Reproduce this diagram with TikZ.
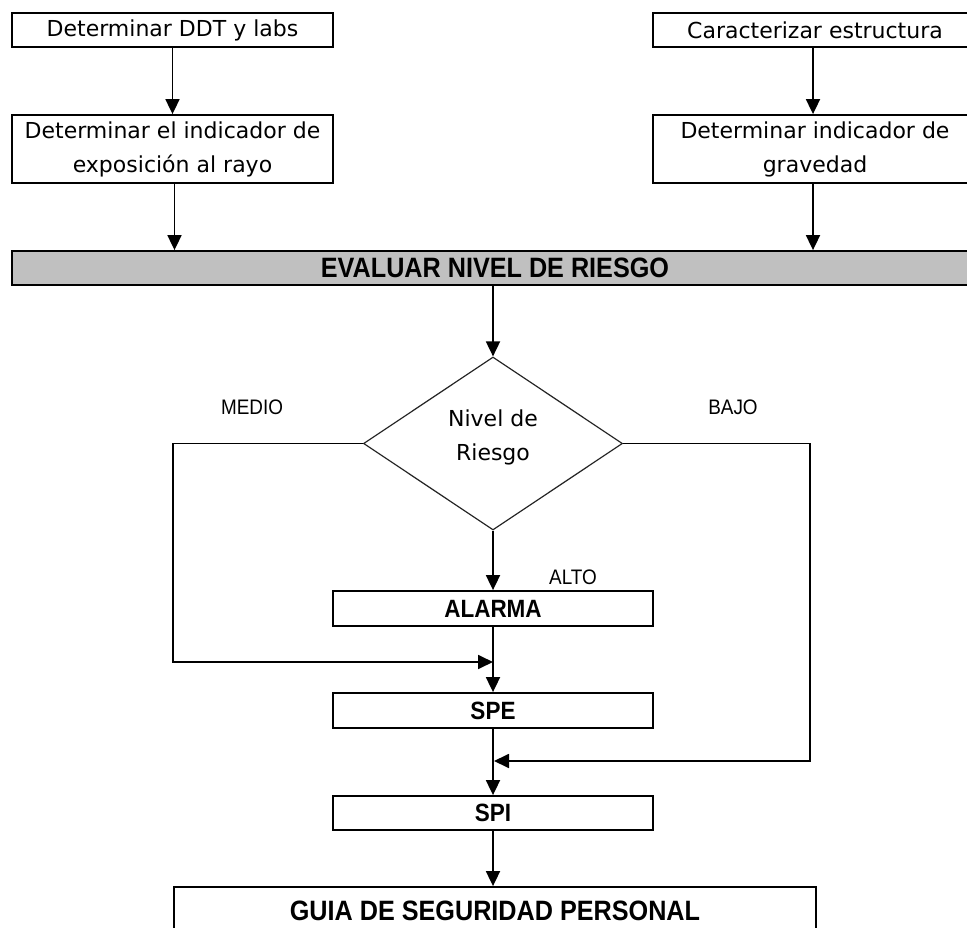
\documentclass[tikz,border=0pt]{standalone}
\usepackage{fontspec}
\usetikzlibrary{arrows.meta,shapes.geometric}
\newfontfamily\regf{DejaVu Sans}
\newfontfamily\boldf[FakeStretch=0.9]{Liberation Sans}
\newfontfamily\labf[FakeStretch=0.9]{Liberation Sans}
\definecolor{barfill}{HTML}{C0C0C0}
\tikzset{
  box/.style={draw=black, rectangle, inner sep=0pt, line width=1.8pt, fill=white, align=center,
              font=\regf\fontsize{22}{34}\selectfont},
  boldbox/.style={box, font=\boldf\bfseries\fontsize{25}{30}\selectfont},
  bigbold/.style={box, font=\boldf\bfseries\fontsize{28}{34}\selectfont},
  lab/.style={inner sep=0pt, font=\labf\fontsize{21}{25}\selectfont},
  conn/.style={line width=1.8pt, -{Triangle[length=15pt,width=14pt]}}
}
\begin{document}
\begin{tikzpicture}[x=1pt,y=-1pt]
\useasboundingbox (0,0) rectangle (967,928);
\clip (0,0) rectangle (967,928);
\fill[white] (0,0) rectangle (967,928);

% top boxes
\node[box, minimum width=321pt, minimum height=34pt] (ddt) at (172.5,30) {Determinar DDT y labs};
\node[box, minimum width=321pt, minimum height=68pt] (expo) at (172.5,149) {Determinar el indicador de\\exposición al rayo};
\node[box, minimum width=324pt, minimum height=34pt] (car) at (815,30) {Caracterizar estructura};
\node[box, minimum width=324pt, minimum height=68pt] (grav) at (815,149) {Determinar indicador de\\gravedad};

% evaluation bar
\node[bigbold, fill=barfill, minimum width=966pt, minimum height=34pt] (eval) at (495,268) {EVALUAR NIVEL DE RIESGO};

% decision
\node[draw=black!85, diamond, line width=1.2pt, inner sep=0pt, minimum width=259pt, minimum height=173pt] (dec) at (493,443.5) {};
\node[inner sep=0pt, align=center, font=\regf\fontsize{22}{34}\selectfont] (dectext) at (493,437) {Nivel de\\Riesgo};

% lower boxes
\node[boldbox, minimum width=320pt, minimum height=35pt] (alarma) at (493,608.5) {ALARMA};
\node[boldbox, minimum width=320pt, minimum height=35pt] (spe) at (493,710.5) {SPE};
\node[boldbox, minimum width=320pt, minimum height=34pt] (spi) at (493,813) {SPI};
\node[bigbold, minimum width=642pt, minimum height=56pt] (guia) at (495,915) {};
\node[inner sep=0pt, font=\boldf\bfseries\fontsize{28}{34}\selectfont] (guiatext) at (495,911) {GUIA DE SEGURIDAD PERSONAL};

% labels
\node[lab] (medio) at (252,407) {MEDIO};
\node[lab] (bajo) at (733,407) {BAJO};
\node[lab] (alto) at (573,577) {ALTO};

% connectors top
\draw[conn] (ddt.south) -- (expo.north);
\draw[conn] ([xshift=2pt]expo.south) -- ([xshift=2pt]expo.south |- eval.north);
\draw[conn] ([xshift=-2pt]car.south) -- ([xshift=-2pt]grav.north);
\draw[conn] ([xshift=-2pt]grav.south) -- ([xshift=-2pt]grav.south |- eval.north);
\draw[conn] (eval.south -| dec.north) -- (dec.north);

% main flow
\draw[conn] (dec.south) -- (alarma.north);
\draw[conn] (alarma.south) -- (spe.north);
\draw[conn] (spe.south) -- (spi.north);
\draw[conn] (spi.south) -- (spi.south |- guia.north);

% MEDIO loop
\coordinate (lc) at (173,443.5);
\coordinate (lj) at (493,662);
\draw[conn] (dec.west) -- (lc) |- (lj);

% BAJO loop
\coordinate (rc) at (810,443.5);
\coordinate (rj) at (494,761);
\draw[conn] (dec.east) -- (rc) |- (rj);
\end{tikzpicture}
\end{document}
